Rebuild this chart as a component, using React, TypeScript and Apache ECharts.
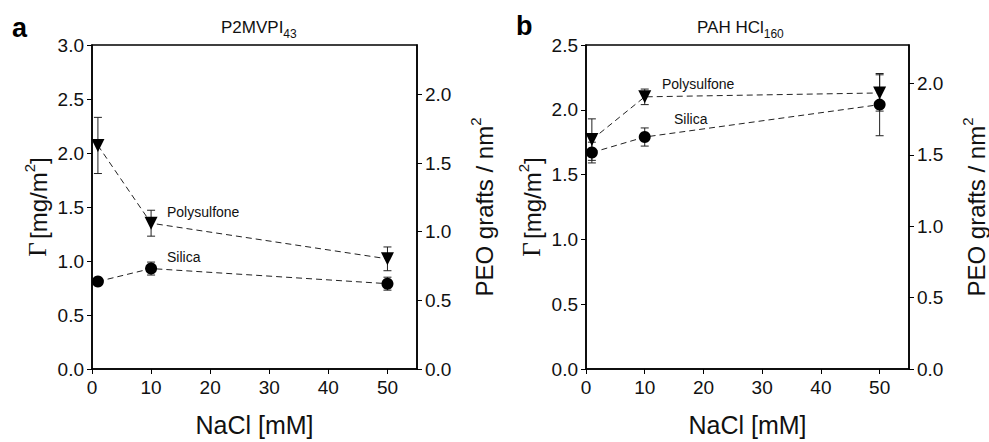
import React, { useEffect, useRef } from "react";
import * as echarts from "echarts";

const nacl = [1, 10, 50];
const aPolysulfone = [2.07, 1.35, 1.02];
const aPolysulfoneErr = [0.26, 0.12, 0.11];
const aSilica = [0.81, 0.93, 0.79];
const aSilicaErr = [0.03, 0.06, 0.06];
const bPolysulfone = [1.77, 2.1, 2.13];
const bPolysulfoneErr = [0.16, 0.06, 0.14];
const bSilica = [1.67, 1.79, 2.04];
const bSilicaErr = [0.08, 0.07, 0.24];
const xTicks = [0, 10, 20, 30, 40, 50];
const aLeftMax = 3.0;
const aRightMax = 2.36;
const bLeftMax = 2.5;
const bRightMax = 2.27;

const FONT = "'Liberation Sans', Arial, sans-serif";

function pts(vals: number[]) {
  return nacl.map((x, i) => [x, vals[i]]);
}
function errs(vals: number[], e: number[]) {
  return nacl.map((x, i) => [x, vals[i] - e[i], vals[i] + e[i]]);
}

const renderErr = (params: any, api: any) => {
  const x = api.value(0);
  const lo = api.value(1);
  const hi = api.value(2);
  const p1 = api.coord([x, hi]);
  const p2 = api.coord([x, lo]);
  const w = 4;
  const st = { stroke: "#222", lineWidth: 1 };
  return {
    type: "group",
    children: [
      { type: "line", shape: { x1: p1[0], y1: p1[1], x2: p2[0], y2: p2[1] }, style: st },
      { type: "line", shape: { x1: p1[0] - w, y1: p1[1], x2: p1[0] + w, y2: p1[1] }, style: st },
      { type: "line", shape: { x1: p2[0] - w, y1: p2[1], x2: p2[0] + w, y2: p2[1] }, style: st },
    ],
  };
};

export default function App() {
  const ref = useRef<HTMLDivElement>(null);
  useEffect(() => {
    document.body.style.margin = "0";
    const chart = echarts.init(ref.current!, null, { renderer: "svg" });
    const axisLine = { show: true, lineStyle: { color: "#000", width: 1.5 } };
    const axisTick = { show: true, inside: false, length: 5, lineStyle: { color: "#000", width: 1 } };
    const labelStyle = { color: "#111", fontSize: 19, fontFamily: FONT };
    const fmt1 = (max: number) => (v: number) =>
      Math.abs(v * 2 - Math.round(v * 2)) < 1e-6 && v <= max + 1e-9 ? v.toFixed(1) : "";
    const xAxisDef = (gi: number) => ({
      type: "value",
      gridIndex: gi,
      min: 0,
      max: 55,
      interval: 10,
      axisLine,
      axisTick,
      splitLine: { show: false },
      axisLabel: {
        ...labelStyle,
        margin: 9,
        showMaxLabel: false,
        formatter: (v: number) => (xTicks.includes(v) ? String(v) : ""),
      },
      name: "NaCl [mM]",
      nameLocation: "middle",
      nameGap: 43,
      nameTextStyle: { color: "#111", fontSize: 25, fontFamily: FONT },
    });
    const supRich = {
      t: { fontSize: 24, fontFamily: FONT, color: "#111", lineHeight: 28, verticalAlign: "bottom" },
      s: { fontSize: 15, fontFamily: FONT, color: "#111", lineHeight: 15, verticalAlign: "top" },
    };
    const leftName = {
      name: "{g|Γ} {t|[mg/m}{s|2}{t|]}",
      nameLocation: "middle",
      nameRotate: 90,
      nameGap: 42,
      nameTextStyle: {
        color: "#111",
        rich: {
          g: { fontSize: 25, fontFamily: "'Liberation Serif', serif", color: "#111", lineHeight: 28, verticalAlign: "bottom" },
          ...supRich,
        },
      },
    };
    const rightName = {
      name: "{t|PEO grafts / nm}{s|2}",
      nameLocation: "middle",
      nameRotate: 90,
      nameGap: 51,
      nameTextStyle: { color: "#111", rich: supRich },
    };
    const yLeft = (gi: number, max: number) => ({
      type: "value",
      gridIndex: gi,
      position: "left",
      min: 0,
      max,
      interval: 0.5,
      axisLine,
      axisTick,
      splitLine: { show: false },
      axisLabel: { ...labelStyle, margin: 8, formatter: fmt1(max) },
      ...leftName,
    });
    const yRight = (gi: number, max: number) => ({
      type: "value",
      gridIndex: gi,
      position: "right",
      min: 0,
      max,
      interval: 0.5,
      axisLine,
      axisTick,
      splitLine: { show: false },
      axisLabel: { ...labelStyle, margin: 8, showMaxLabel: false, formatter: fmt1(Math.floor(max * 2) / 2) },
      ...rightName,
    });
    const lineSeries = (xi: number, yi: number, data: number[][], symbol: string, rotate: number) => ({
      type: "line",
      xAxisIndex: xi,
      yAxisIndex: yi,
      data,
      symbol,
      symbolSize: symbol === "circle" ? 12 : 13,
      symbolRotate: rotate,
      itemStyle: { color: "#000" },
      lineStyle: { color: "#222", width: 1, type: [6, 4] },
      z: 3,
    });
    const errSeries = (xi: number, yi: number, data: number[][]) => ({
      type: "custom",
      xAxisIndex: xi,
      yAxisIndex: yi,
      data,
      encode: { x: 0, y: [1, 2] },
      renderItem: renderErr,
      z: 2,
    });
    const annot = (text: string, left: number, top: number, size = 14) => ({
      type: "text",
      left,
      top,
      style: { text, fontSize: size, fontFamily: FONT, fill: "#111" },
    });
    const titleRich = {
      m: { fontSize: 17, fontFamily: FONT, fill: "#111", color: "#111", lineHeight: 21, verticalAlign: "top" },
      s: { fontSize: 12, fontFamily: FONT, fill: "#111", color: "#111", lineHeight: 12, verticalAlign: "bottom" },
    };
    chart.setOption({
      animation: false,
      backgroundColor: "#fff",
      grid: [
        { left: 92, top: 45, width: 325, height: 325, show: true, borderColor: "#000", borderWidth: 1.5, backgroundColor: "transparent" },
        { left: 586, top: 45, width: 325, height: 325, show: true, borderColor: "#000", borderWidth: 1.5, backgroundColor: "transparent" },
      ],
      xAxis: [xAxisDef(0), xAxisDef(1)],
      yAxis: [yLeft(0, aLeftMax), yRight(0, aRightMax), yLeft(1, bLeftMax), yRight(1, bRightMax)],
      series: [
        errSeries(0, 0, errs(aPolysulfone, aPolysulfoneErr)),
        errSeries(0, 0, errs(aSilica, aSilicaErr)),
        lineSeries(0, 0, pts(aPolysulfone), "triangle", 180),
        lineSeries(0, 0, pts(aSilica), "circle", 0),
        errSeries(1, 2, errs(bPolysulfone, bPolysulfoneErr)),
        errSeries(1, 2, errs(bSilica, bSilicaErr)),
        lineSeries(1, 2, pts(bPolysulfone), "triangle", 180),
        lineSeries(1, 2, pts(bSilica), "circle", 0),
      ],
      graphic: [
        { type: "text", left: 12, top: 14, style: { text: "a", fontSize: 27, fontWeight: "bold", fontFamily: FONT, fill: "#000" } },
        { type: "text", left: 516, top: 12, style: { text: "b", fontSize: 27, fontWeight: "bold", fontFamily: FONT, fill: "#000" } },
        { type: "text", left: 221, top: 19, style: { text: "{m|P2MVPI}{s|43}", rich: titleRich } },
        { type: "text", left: 697, top: 19, style: { text: "{m|PAH HCl}{s|160}", rich: titleRich } },
        annot("Polysulfone", 167, 205),
        annot("Silica", 167, 250),
        annot("Polysulfone", 662, 77),
        annot("Silica", 674, 112),
      ],
    });
    return () => chart.dispose();
  }, []);
  return <div ref={ref} style={{ width: 989, height: 442 }} />;
}
